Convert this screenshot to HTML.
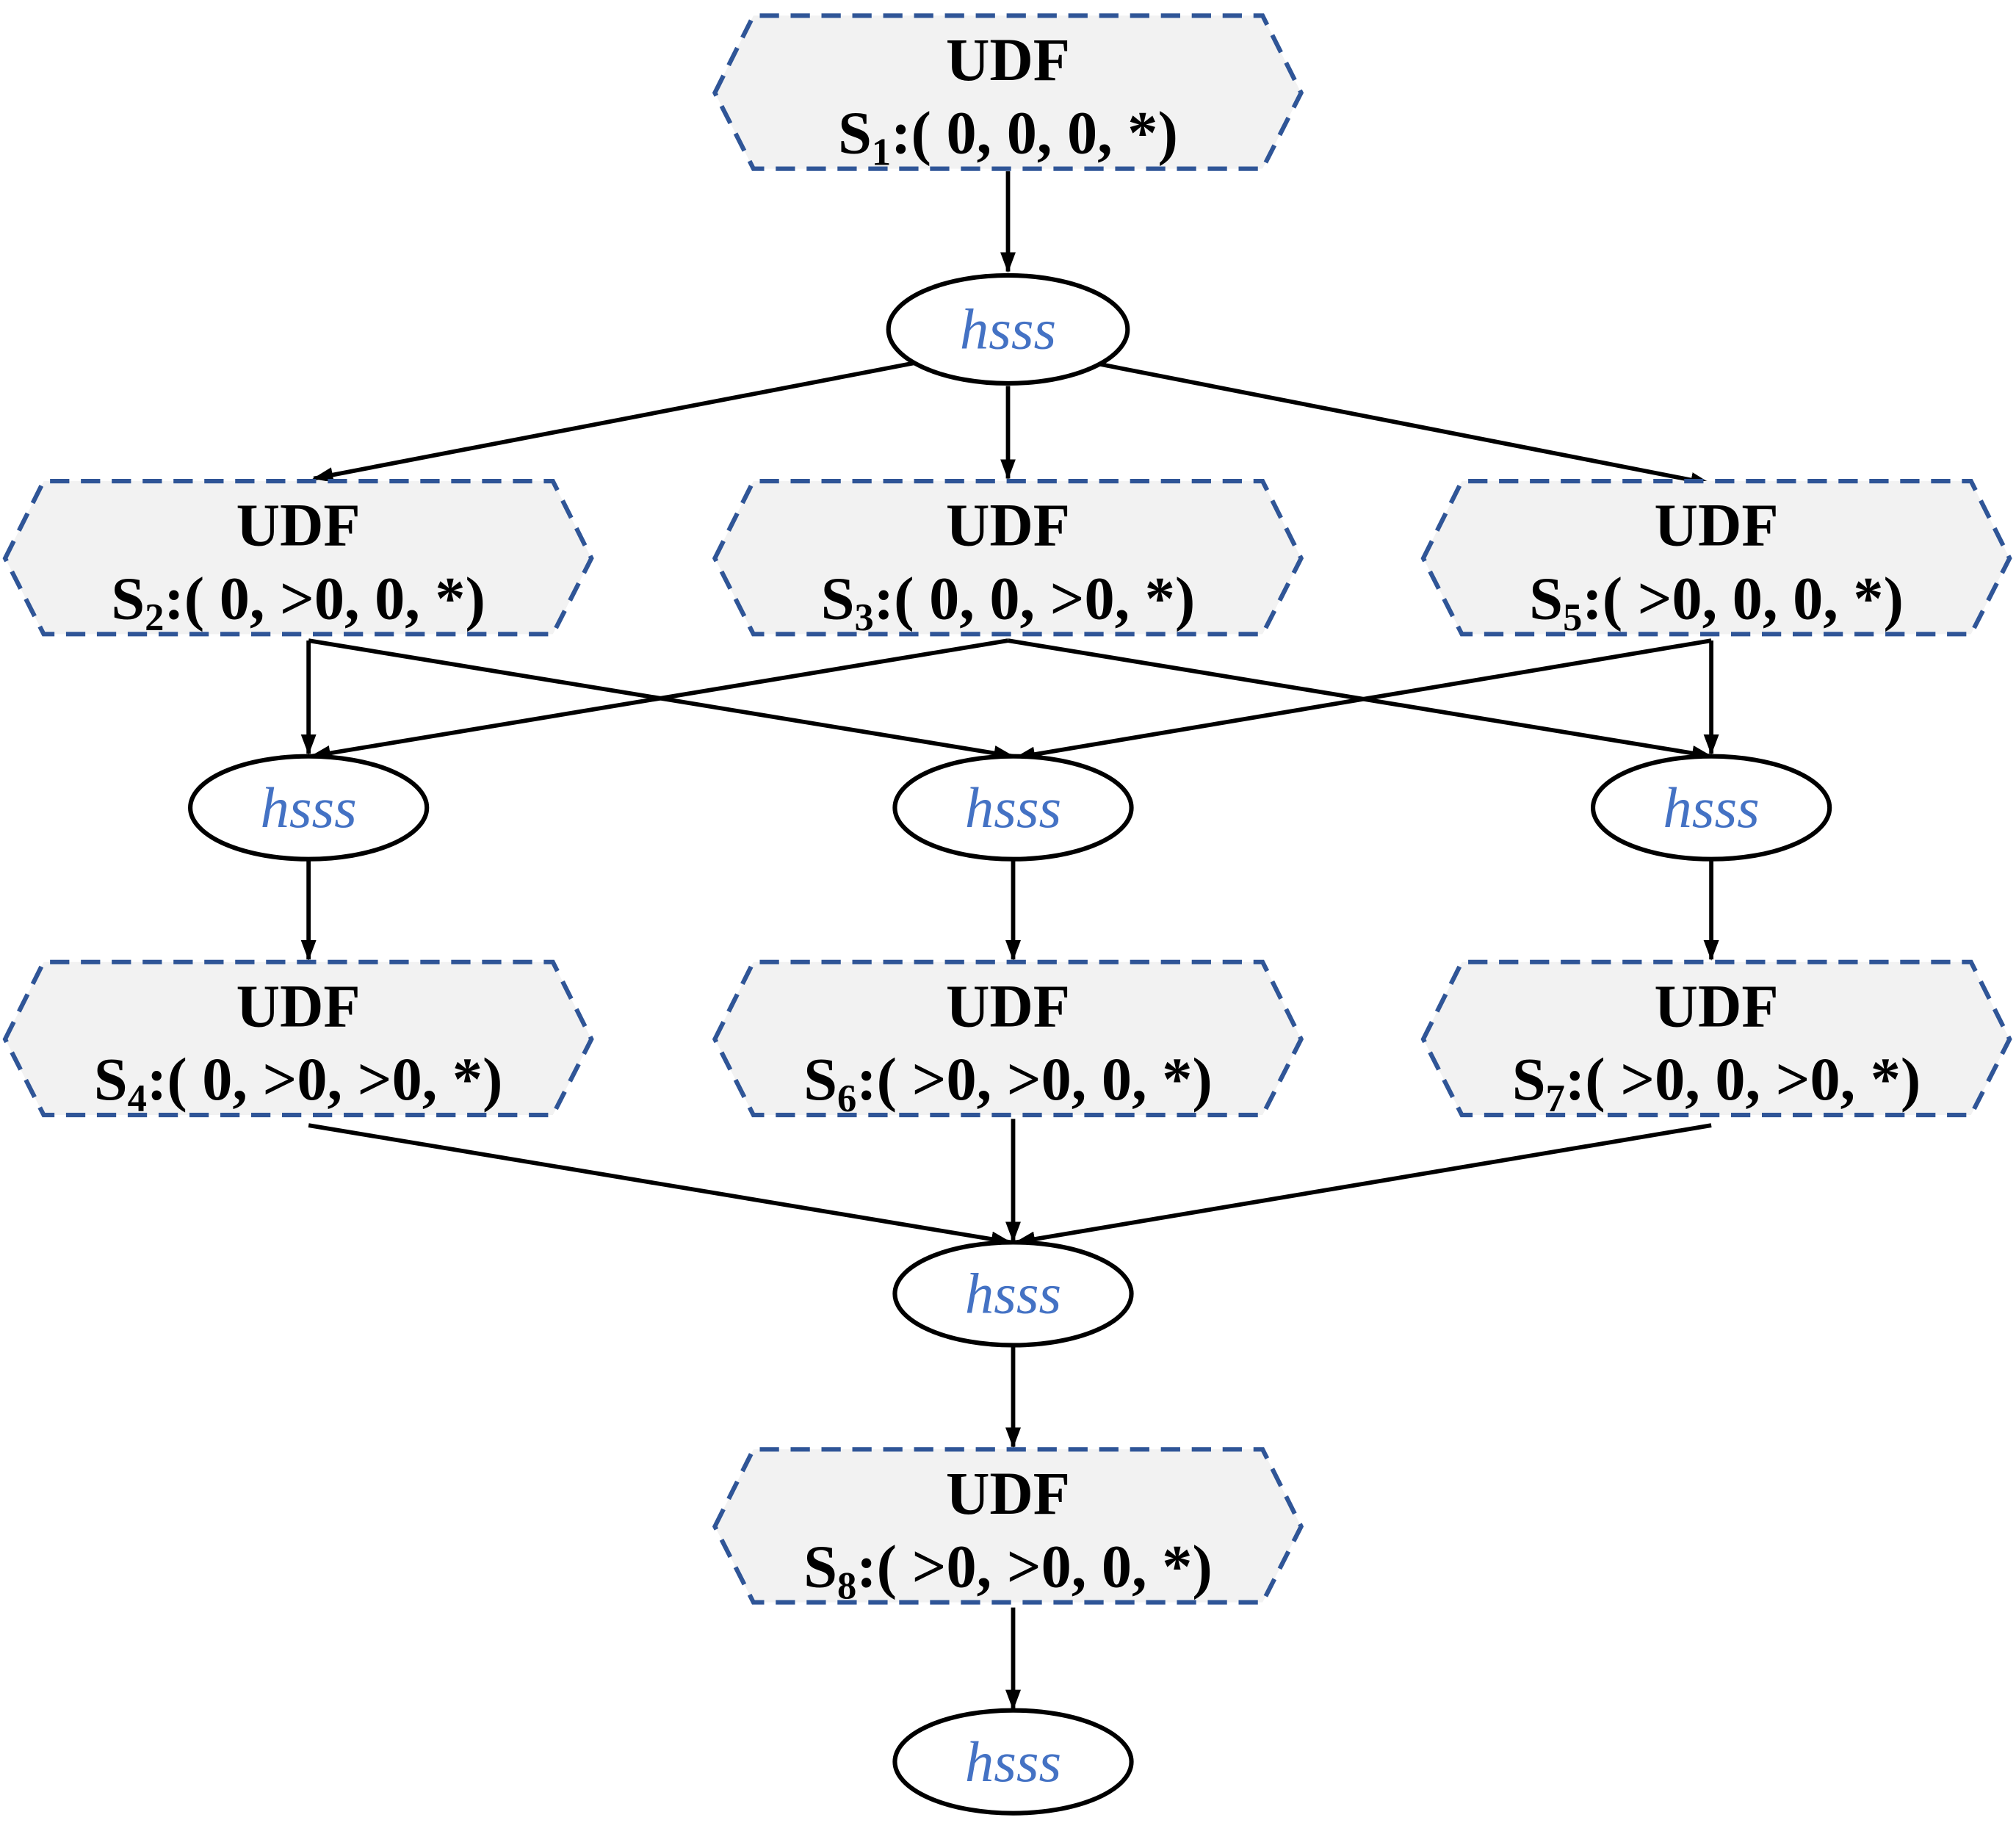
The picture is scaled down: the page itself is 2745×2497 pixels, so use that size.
<!DOCTYPE html>
<html><head><meta charset="utf-8"><style>html,body{margin:0;padding:0;background:#fff}svg{display:block}</style></head>
<body>
<svg width="2745" height="2497" viewBox="0 0 1568 1426" xmlns="http://www.w3.org/2000/svg">
<defs>
<marker id="b" viewBox="0 0 16 12" refX="15" refY="6" markerWidth="16" markerHeight="12" orient="auto" markerUnits="userSpaceOnUse">
<path d="M0,0 L16,6 L0,12 Z" fill="#000"/>
</marker>
<g id="hex"><path d="M0,60 L30,0 L426,0 L456,60 L426,119 L30,119 Z" fill="#f2f2f2" stroke="#2f5597" stroke-width="3.5" stroke-dasharray="15,9"/></g>
</defs>
<g fill="none" stroke="#000" stroke-width="3.3">
<line x1="784" y1="133" x2="784" y2="211" marker-end="url(#b)"/>
<line x1="712" y1="282" x2="244" y2="372" marker-end="url(#b)"/>
<line x1="784" y1="300" x2="784" y2="372" marker-end="url(#b)"/>
<line x1="850" y1="282" x2="1330" y2="376" marker-end="url(#b)"/>
<polyline points="240,498 240,586" marker-end="url(#b)"/>
<line x1="240" y1="498" x2="788" y2="588" marker-end="url(#b)"/>
<line x1="784" y1="498" x2="242" y2="588" marker-end="url(#b)"/>
<line x1="784" y1="498" x2="1331" y2="588" marker-end="url(#b)"/>
<line x1="1331" y1="498" x2="1331" y2="586" marker-end="url(#b)"/>
<line x1="1331" y1="498" x2="790" y2="589" marker-end="url(#b)"/>
<line x1="240" y1="668" x2="240" y2="746" marker-end="url(#b)"/>
<line x1="788" y1="668" x2="788" y2="746" marker-end="url(#b)"/>
<line x1="1331" y1="668" x2="1331" y2="746" marker-end="url(#b)"/>
<line x1="240" y1="875" x2="786" y2="966" marker-end="url(#b)"/>
<line x1="788" y1="870" x2="788" y2="965" marker-end="url(#b)"/>
<line x1="1331" y1="875" x2="790" y2="966" marker-end="url(#b)"/>
<line x1="788" y1="1046" x2="788" y2="1125" marker-end="url(#b)"/>
<line x1="788" y1="1250" x2="788" y2="1329" marker-end="url(#b)"/>
</g>
<use href="#hex" x="556" y="12"/>
<use href="#hex" x="4" y="374"/>
<use href="#hex" x="556" y="374"/>
<use href="#hex" x="1107" y="374"/>
<use href="#hex" x="4" y="748"/>
<use href="#hex" x="556" y="748"/>
<use href="#hex" x="1107" y="748"/>
<use href="#hex" x="556" y="1127"/>
<g fill="#fff" stroke="#000" stroke-width="3.5">
<ellipse cx="784" cy="256" rx="93" ry="42"/>
<ellipse cx="240" cy="628" rx="92" ry="40"/>
<ellipse cx="788" cy="628" rx="92" ry="40"/>
<ellipse cx="1331" cy="628" rx="92" ry="40"/>
<ellipse cx="788" cy="1006" rx="92" ry="40"/>
<ellipse cx="788" cy="1370" rx="92" ry="40"/>
</g>
<g font-family="Liberation Serif, serif" font-style="italic" font-size="45" fill="#4472c4" text-anchor="middle">
<text x="784" y="271">hsss</text>
<text x="240" y="643">hsss</text>
<text x="788" y="643">hsss</text>
<text x="1331" y="643">hsss</text>
<text x="788" y="1021">hsss</text>
<text x="788" y="1385">hsss</text>
</g>
<g font-family="Liberation Serif, serif" font-weight="bold" font-size="47" fill="#000" text-anchor="middle">
<text x="784" y="62">UDF</text>
<text x="784" y="119">S<tspan font-size="30" dy="9">1</tspan><tspan dy="-9">:( 0, 0, 0, *)</tspan></text>
<text x="232" y="424">UDF</text>
<text x="232" y="481">S<tspan font-size="30" dy="9">2</tspan><tspan dy="-9">:( 0, &gt;0, 0, *)</tspan></text>
<text x="784" y="424">UDF</text>
<text x="784" y="481">S<tspan font-size="30" dy="9">3</tspan><tspan dy="-9">:( 0, 0, &gt;0, *)</tspan></text>
<text x="1335" y="424">UDF</text>
<text x="1335" y="481">S<tspan font-size="30" dy="9">5</tspan><tspan dy="-9">:( &gt;0, 0, 0, *)</tspan></text>
<text x="232" y="798">UDF</text>
<text x="232" y="855">S<tspan font-size="30" dy="9">4</tspan><tspan dy="-9">:( 0, &gt;0, &gt;0, *)</tspan></text>
<text x="784" y="798">UDF</text>
<text x="784" y="855">S<tspan font-size="30" dy="9">6</tspan><tspan dy="-9">:( &gt;0, &gt;0, 0, *)</tspan></text>
<text x="1335" y="798">UDF</text>
<text x="1335" y="855">S<tspan font-size="30" dy="9">7</tspan><tspan dy="-9">:( &gt;0, 0, &gt;0, *)</tspan></text>
<text x="784" y="1177">UDF</text>
<text x="784" y="1234">S<tspan font-size="30" dy="9">8</tspan><tspan dy="-9">:( &gt;0, &gt;0, 0, *)</tspan></text>
</g>
</svg>
</body></html>
